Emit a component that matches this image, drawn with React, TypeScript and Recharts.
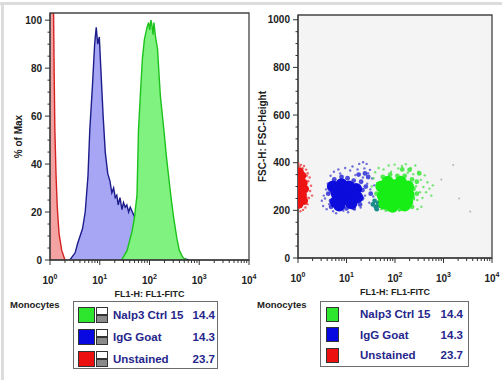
import {
  ComposedChart,
  Area,
  ScatterChart,
  Scatter,
  XAxis,
  YAxis,
  Label,
  ReferenceArea,
  CartesianGrid,
} from "recharts";

const FONT = '"Liberation Sans", Arial, Helvetica, sans-serif';

// histogram: [FL1-H, % of Max]
const unstainedHist = [
  [1, 103], [1.18, 103], [1.21, 80], [1.25, 55], [1.32, 36], [1.4, 22], [1.52, 11], [1.72, 4], [2.0, 0],
];
const iggHist = [
  [2.5, 0], [3.2, 3], [3.6, 7], [4.5, 13], [5.1, 20], [5.8, 35], [6.3, 54], [7.1, 72], [7.9, 90],
  [8.5, 97], [9.1, 90], [9.8, 93], [10.5, 80], [11.7, 60], [12.9, 45], [14.5, 36], [16, 33],
  [17.5, 28], [19, 30], [20.5, 26], [22, 27], [23.5, 23], [25.5, 26], [28, 21], [30, 24],
  [32.5, 22], [35, 23], [38, 20], [41, 22], [50, 18], [63, 14], [80, 12], [100, 10], [158, 6],
  [250, 3], [400, 1], [630, 0],
];
const nalp3Hist = [
  [27.5, 0], [35.5, 4], [44.7, 12], [50, 18], [56, 27], [58, 40], [60, 54], [66, 70], [72, 84],
  [79, 92], [89, 97], [96, 99], [101, 96], [107, 100], [112, 98], [118, 94], [123, 99], [132, 93],
  [145, 88], [158, 75], [166, 68], [178, 62], [195, 54], [219, 43], [245, 34], [275, 25],
  [309, 17], [355, 9], [398, 4], [468, 1], [560, 0],
];

// dot plot: [FL1-H, FSC-H]
const unstainedCore = [
  [1.08, 362], [1.22, 345], [1.06, 325], [1.3, 315], [1.12, 298], [1.38, 290], [1.05, 275],
  [1.25, 265], [1.1, 245], [1.32, 240], [1.06, 225],
];
const unstainedHalo = [
  [1.02, 396], [1.08, 384], [1.15, 391], [1.24, 377], [1.33, 386], [1.47, 371], [1.58, 356],
  [1.74, 338], [1.86, 303], [1.68, 252], [1.56, 226], [1.42, 212], [1.27, 202], [1.12, 196],
  [1.04, 211], [1.78, 281], [1.63, 322], [1.95, 262], [1.52, 345], [1.6, 290], [1.49, 255],
];
const iggCore = [
  [5.25, 300], [6.3, 270], [6.0, 235], [7.9, 310], [8.3, 280], [8.9, 245], [11.2, 300],
  [12, 265], [12.6, 230], [15.8, 290], [16.6, 255], [7.1, 220],
];
const iggEdge = [
  [4.2, 270], [4.5, 300], [4.8, 240], [5.6, 330], [7.9, 340], [10.5, 335], [14.1, 325], [20, 320],
  [21.4, 285], [20.9, 250], [19, 225], [14.1, 210], [10, 208], [6.3, 210], [4.8, 215], [25, 300],
  [28, 340], [24, 355], [17.8, 350], [31.6, 270],
];
const iggHalo = [
  [3.1, 240], [3.4, 262], [3.3, 218], [3.8, 288], [3.9, 205], [4.1, 312], [4.4, 226], [4.7, 345],
  [5.3, 196], [5.5, 362], [6.1, 188], [6.8, 372], [7.4, 355], [8.6, 198], [9.4, 378], [10.8, 192],
  [11.9, 367], [13.3, 384], [14.7, 203], [16.9, 372], [18.3, 395], [19.6, 212], [21.8, 338],
  [23.4, 376], [24.1, 262], [26.7, 312], [27.9, 356], [29.5, 232], [31, 288], [33.8, 334],
  [35.6, 258], [37.2, 305], [26, 395], [22, 402], [15.2, 348], [12.4, 212], [30.5, 370], [4.6, 275],
  [3.6, 250],
];
const overlapDots = [[35, 225], [40, 215], [45, 230], [38, 240], [42, 205], [48, 220]];
const nalp3Core = [
  [52.5, 300], [56.2, 260], [60.3, 228], [70.8, 320], [75.9, 285], [79.4, 245], [89.1, 215],
  [100, 305], [104.7, 270], [112, 235], [131.8, 320], [141, 285], [148, 250], [158.5, 220],
  [186, 300], [190.5, 265], [178, 235],
];
const nalp3Edge = [
  [41.7, 270], [44.7, 310], [47.9, 235], [56.2, 340], [79.4, 350], [112, 345], [158.5, 345],
  [224, 330], [240, 290], [234, 250], [224, 215], [126, 205], [70.8, 205], [282, 320], [316, 355],
  [200, 370], [141, 372], [282, 270],
];
const nalp3Halo = [
  [33, 300], [36, 335], [39, 360], [46, 378], [52, 205], [58, 372], [64, 198], [74, 388], [83, 362],
  [92, 201], [98, 392], [117, 376], [121, 199], [139, 386], [152, 207], [167, 394], [183, 358],
  [211, 378], [226, 232], [238, 352], [262, 388], [271, 301], [288, 243], [305, 362], [327, 276],
  [342, 328], [368, 252], [385, 298], [412, 347], [437, 276], [468, 318], [512, 291], [560, 262],
  [605, 305], [350, 215], [290, 205],
];
const strayDots = [[1585, 390], [3548, 195], [900, 330], [2100, 250]];

const legendNames = ["Nalp3 Ctrl 15", "IgG Goat", "Unstained"];
const legendValues = ["14.4", "14.3", "23.7"];
const legendColors = ["#2ee62e", "#0808e0", "#ec1010"];

const logTicks = [
  1, 2, 3, 4, 5, 6, 7, 8, 9, 10, 20, 30, 40, 50, 60, 70, 80, 90, 100, 200, 300, 400, 500, 600,
  700, 800, 900, 1000, 2000, 3000, 4000, 5000, 6000, 7000, 8000, 9000, 10000,
];
const pctTicks = [0, 5, 10, 15, 20, 25, 30, 35, 40, 45, 50, 55, 60, 65, 70, 75, 80, 85, 90, 95, 100];
const fscTicks = [
  0, 50, 100, 150, 200, 250, 300, 350, 400, 450, 500, 550, 600, 650, 700, 750, 800, 850, 900, 950, 1000,
];

const pts = (a: number[][]) => a.map(([x, y]) => ({ x, y }));

function LogTick(props: any) {
  const { x, y, payload } = props;
  const lg = Math.log10(payload.value);
  const exp = Math.round(lg);
  const major = Math.abs(lg - exp) < 1e-6;
  return (
    <g>
      <line x1={x} x2={x} y1={y} y2={y + (major ? 5 : 3)} stroke="#333" strokeWidth={1} />
      {major && (
        <text x={x} y={y + 24} textAnchor="middle" fontSize={10} fontWeight="bold" fill="#222" fontFamily={FONT}>
          10
          <tspan dy={-5} fontSize={7}>
            {exp}
          </tspan>
        </text>
      )}
    </g>
  );
}

function ValueTick(props: any) {
  const { x, y, payload, step } = props;
  const major = payload.value % step === 0;
  return (
    <g>
      <line x1={x} x2={x - (major ? 5 : 2.5)} y1={y} y2={y} stroke="#333" strokeWidth={1} />
      {major && (
        <text x={x - 8} y={y + 3.5} textAnchor="end" fontSize={10} fontWeight="bold" fill="#222" fontFamily={FONT}>
          {payload.value}
        </text>
      )}
    </g>
  );
}

const dot = (r: number, fill: string, opacity = 1) => (p: any) =>
  <circle cx={p.cx} cy={p.cy} r={r} fill={fill} fillOpacity={opacity} />;

function XTitle(p: any) {
  const vb = p.viewBox;
  return (
    <text x={vb.x + vb.width / 2} y={vb.y + 37} textAnchor="middle" fontSize={9} fontWeight="bold" fill="#222" fontFamily={FONT}>
      FL1-H: FL1-FITC
    </text>
  );
}

function YTitle(x: number, text: string) {
  return (p: any) => {
    const vb = p.viewBox;
    const cy = vb.y + vb.height / 2;
    return (
      <text x={x} y={cy} transform={`rotate(-90 ${x} ${cy})`} textAnchor="middle" dominantBaseline="central"
        fontSize={10} fontWeight="bold" fill="#222" fontFamily={FONT}>
        {text}
      </text>
    );
  };
}

function Histogram() {
  return (
    <ComposedChart width={262} height={300} margin={{ top: 13, right: 13, left: 0, bottom: 10 }}>
      <XAxis type="number" dataKey="x" scale="log" domain={[1, 10000]} allowDataOverflow ticks={logTicks}
        interval={0} tick={<LogTick />} tickLine={false} tickSize={0} tickMargin={0} height={30}
        axisLine={{ stroke: "#333" }}>
        <Label content={XTitle} />
      </XAxis>
      <YAxis type="number" dataKey="y" domain={[0, 103]} allowDataOverflow ticks={pctTicks} interval={0}
        tick={(p: any) => <ValueTick {...p} step={20} />} tickLine={false} tickSize={0} tickMargin={0}
        width={50} axisLine={{ stroke: "#333" }}>
        <Label content={YTitle(18, "% of Max")} />
      </YAxis>
      <Area data={pts(unstainedHist)} dataKey="y" type="linear" fill="#f5a2a2" fillOpacity={1}
        stroke="#d42222" strokeWidth={1.4} isAnimationActive={false} />
      <Area data={pts(iggHist)} dataKey="y" type="linear" fill="#a6a6f4" fillOpacity={1}
        stroke="#1c1c8c" strokeWidth={1.4} isAnimationActive={false} />
      <Area data={pts(nalp3Hist)} dataKey="y" type="linear" fill="#80f280" fillOpacity={1}
        stroke="#1cc21c" strokeWidth={1.4} isAnimationActive={false} />
      <ReferenceArea x1={1} x2={10000} y1={0} y2={103} fill="none" stroke="#444" strokeWidth={1.3} />
    </ComposedChart>
  );
}

function DotPlot() {
  return (
    <ScatterChart width={252} height={300} margin={{ top: 15, right: 10, left: 0, bottom: 10 }}>
      <CartesianGrid horizontal={false} vertical={false} fill="#f4f4f4" />
      <XAxis type="number" dataKey="x" scale="log" domain={[1, 10000]} allowDataOverflow ticks={logTicks}
        interval={0} tick={<LogTick />} tickLine={false} tickSize={0} tickMargin={0} height={32}
        axisLine={{ stroke: "#333" }}>
        <Label content={XTitle} />
      </XAxis>
      <YAxis type="number" dataKey="y" domain={[0, 1020]} allowDataOverflow ticks={fscTicks} interval={0}
        tick={(p: any) => <ValueTick {...p} step={200} />} tickLine={false} tickSize={0} tickMargin={0}
        width={48} axisLine={{ stroke: "#333" }}>
        <Label content={YTitle(12, "FSC-H: FSC-Height")} />
      </YAxis>
      <Scatter data={pts(strayDots)} shape={dot(1, "#b0bab0")} isAnimationActive={false} />
      <Scatter data={pts(unstainedHalo)} shape={dot(1.2, "#f03030", 0.75)} isAnimationActive={false} />
      <Scatter data={pts(unstainedCore)} shape={dot(4.2, "#ee1414")} isAnimationActive={false} />
      <Scatter data={pts(iggHalo)} shape={dot(1.2, "#3434d0", 0.7)} isAnimationActive={false} />
      <Scatter data={pts(iggEdge)} shape={dot(2.4, "#2020d4", 0.8)} isAnimationActive={false} />
      <Scatter data={pts(iggCore)} shape={dot(6, "#0c0cdc")} isAnimationActive={false} />
      <Scatter data={pts(nalp3Halo)} shape={dot(1.2, "#40dc40", 0.7)} isAnimationActive={false} />
      <Scatter data={pts(nalp3Edge)} shape={dot(2.4, "#2ae62a", 0.8)} isAnimationActive={false} />
      <Scatter data={pts(overlapDots)} shape={dot(2.4, "#1a8a8a")} isAnimationActive={false} />
      <Scatter data={pts(nalp3Core)} shape={dot(6, "#16ee16")} isAnimationActive={false} />
      <ReferenceArea x1={1} x2={10000} y1={0} y2={1020} fill="none" stroke="#444" strokeWidth={1.3} />
    </ScatterChart>
  );
}

function LegendBox(props: { left: number; width: number; height: number; toggles: boolean; swW: number; swH: number; swX: number; textX: number; valueRight: number; firstCenter: number; gap: number }) {
  const { left, width, height, toggles, swW, swH, swX, textX, valueRight, firstCenter, gap } = props;
  const top = 301;
  return (
    <>
      <div style={{ position: "absolute", left: left - 63, top: 299, fontSize: 9.5, fontWeight: "bold", color: "#222", fontFamily: FONT }}>
        Monocytes
      </div>
      <div style={{ position: "absolute", left, top, width, height, boxSizing: "border-box", border: "1.5px solid #6c6c6c", background: "#fff" }} />
      {legendNames.map((name, i) => {
        const cy = firstCenter + i * gap;
        return (
          <div key={name}>
            <div style={{ position: "absolute", left: swX, top: cy - swH / 2, width: swW, height: swH, boxSizing: "border-box", background: legendColors[i], border: "1px solid #333" }} />
            {toggles && (
              <div style={{ position: "absolute", left: swX + swW + 1, top: cy - swH / 2, width: 12, height: swH, boxSizing: "border-box", border: "1px solid #333", background: "linear-gradient(#fff 0, #fff 45%, #333 45%, #333 55%, #8a8a8a 55%)" }} />
            )}
            <div style={{ position: "absolute", left: textX, top: cy - 8, lineHeight: "16px", fontSize: 11.5, fontWeight: "bold", color: "#26268c", fontFamily: FONT, whiteSpace: "nowrap" }}>
              {name}
            </div>
            <div style={{ position: "absolute", left: valueRight - 40, width: 40, textAlign: "right", top: cy - 8, lineHeight: "16px", fontSize: 11.5, fontWeight: "bold", color: "#26268c", fontFamily: FONT }}>
              {legendValues[i]}
            </div>
          </div>
        );
      })}
    </>
  );
}

export default function App() {
  return (
    <div style={{ position: "absolute", left: 0, top: 0, width: 502, height: 380, background: "#fff", overflow: "hidden" }}>
      <div style={{ position: "absolute", left: 0, top: 2, width: 502, height: 3, background: "#dcdcdc" }} />
      <div style={{ position: "absolute", left: 1, top: 2, width: 3, height: 378, background: "#dcdcdc" }} />
      <div style={{ position: "absolute", left: 0, top: 0 }}>
        <Histogram />
      </div>
      <div style={{ position: "absolute", left: 250, top: 0 }}>
        <DotPlot />
      </div>
      <LegendBox left={73} width={145} height={68} toggles swW={17} swH={16} swX={78} textX={113} valueRight={215} firstCenter={315} gap={22} />
      <LegendBox left={320} width={149} height={66} toggles={false} swW={13} swH={15} swX={326} textX={360} valueRight={463} firstCenter={314} gap={20.5} />
    </div>
  );
}
